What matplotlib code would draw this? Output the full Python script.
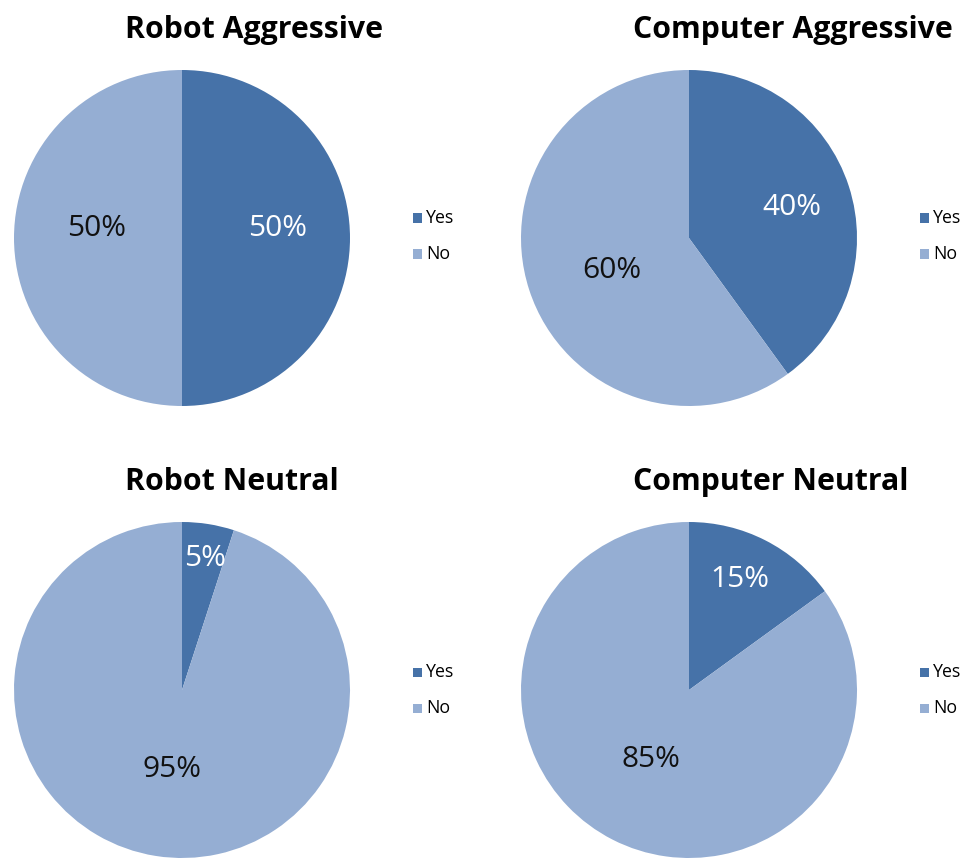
import matplotlib.pyplot as plt
from matplotlib.patches import Rectangle

titles = ['Robot Aggressive', 'Computer Aggressive', 'Robot Neutral', 'Computer Neutral']
categories = ['Yes', 'No']
yes_pct = [50, 40, 5, 15]
no_pct = [50, 60, 95, 85]

yes_color = '#4672A8'
no_color = '#95AED3'

W, H = 978, 858
fig = plt.figure(figsize=(W / 100, H / 100), dpi=100)
fig.patch.set_facecolor('white')

# pixel layout of each panel: pie left, pie top, title left, title y, legend x, legend y
layout = [
    (14, 70, 125, 30, 410, 236),
    (521, 70, 633, 30, 917, 236),
    (14, 522, 125, 482, 410, 690),
    (521, 522, 633, 482, 917, 690),
]
# where the percentages sit, in pie radius units ((yes x, y), (no x, y))
label_pos = [
    ((0.571, 0.057), (-0.506, 0.057)),
    ((0.613, 0.182), (-0.458, -0.193)),
    ((0.137, 0.784), (-0.060, -0.472)),
    ((0.304, 0.659), (-0.226, -0.413)),
]

D = 336
for i in range(4):
    px, py, tx, ty, lx, ly = layout[i]
    ax = fig.add_axes([px / W, 1 - (py + D) / H, D / W, D / H])
    wedges, texts, autotexts = ax.pie([yes_pct[i], no_pct[i]], colors=[yes_color, no_color],
                                      startangle=90, counterclock=False,
                                      autopct='%d%%', pctdistance=0.6,
                                      wedgeprops=dict(linewidth=0),
                                      textprops=dict(fontsize=21.5, family='Open Sans'))
    for w in wedges:
        w.set_clip_on(False)
    ax.set_xlim(-1, 1)
    ax.set_ylim(-1, 1)
    ax.set_aspect('equal')
    for k, t in enumerate(autotexts):
        t.set_position(label_pos[i][k])
    autotexts[0].set_color('white')
    autotexts[1].set_color('#111111')

    fig.text(tx / W, 1 - ty / H, titles[i], ha='left', va='center',
             fontsize=21.8, fontweight='bold', family='Open Sans', color='black')

    # legend
    for k, c in enumerate(categories):
        yy = ly - 18 + 36 * k
        fig.patches.append(Rectangle(((lx + 3) / W, 1 - (yy + 4.5) / H), 9 / W, 9 / H,
                                     transform=fig.transFigure, figure=fig,
                                     facecolor=[yes_color, no_color][k], edgecolor='none'))
        fig.text((lx + 16) / W, 1 - yy / H, c, ha='left', va='center',
                 fontsize=12.8, family='Open Sans', color='black')

fig.savefig('out.png', dpi=100, facecolor='white')
